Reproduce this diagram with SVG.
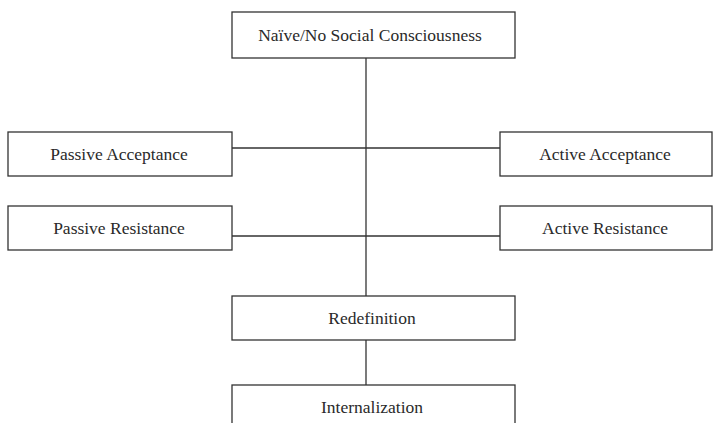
<svg xmlns="http://www.w3.org/2000/svg" width="713" height="423" viewBox="0 0 713 423">
<style>
.box{fill:#fff;stroke:#333;stroke-width:1.3}
.ln{stroke:#333;stroke-width:1.3;fill:none}
text{font-family:"Liberation Serif","Times New Roman",serif;font-size:17.5px;fill:#2a2a2a;text-anchor:middle}
</style>
<rect width="713" height="423" fill="#fff"/>
<g id="connectors">
<line class="ln" x1="366" y1="58" x2="366" y2="296"/>
<line class="ln" x1="232" y1="148" x2="500" y2="148"/>
<line class="ln" x1="232" y1="236" x2="500" y2="236"/>
<line class="ln" x1="366" y1="340" x2="366" y2="385"/>
</g>
<g id="naive"><rect class="box" x="232" y="12" width="283" height="46"/><text x="370" y="41">Naïve/No Social Consciousness</text></g>
<g id="passive-acceptance"><rect class="box" x="8" y="132" width="224" height="44"/><text x="119" y="160">Passive Acceptance</text></g>
<g id="active-acceptance"><rect class="box" x="500" y="132" width="212" height="44"/><text x="605" y="160">Active Acceptance</text></g>
<g id="passive-resistance"><rect class="box" x="8" y="206" width="224" height="44"/><text x="119" y="234">Passive Resistance</text></g>
<g id="active-resistance"><rect class="box" x="500" y="206" width="212" height="44"/><text x="605" y="234">Active Resistance</text></g>
<g id="redefinition"><rect class="box" x="232" y="296" width="283" height="44"/><text x="372" y="324">Redefinition</text></g>
<g id="internalization"><rect class="box" x="232" y="385" width="283" height="50"/><text x="372" y="413">Internalization</text></g>
</svg>
